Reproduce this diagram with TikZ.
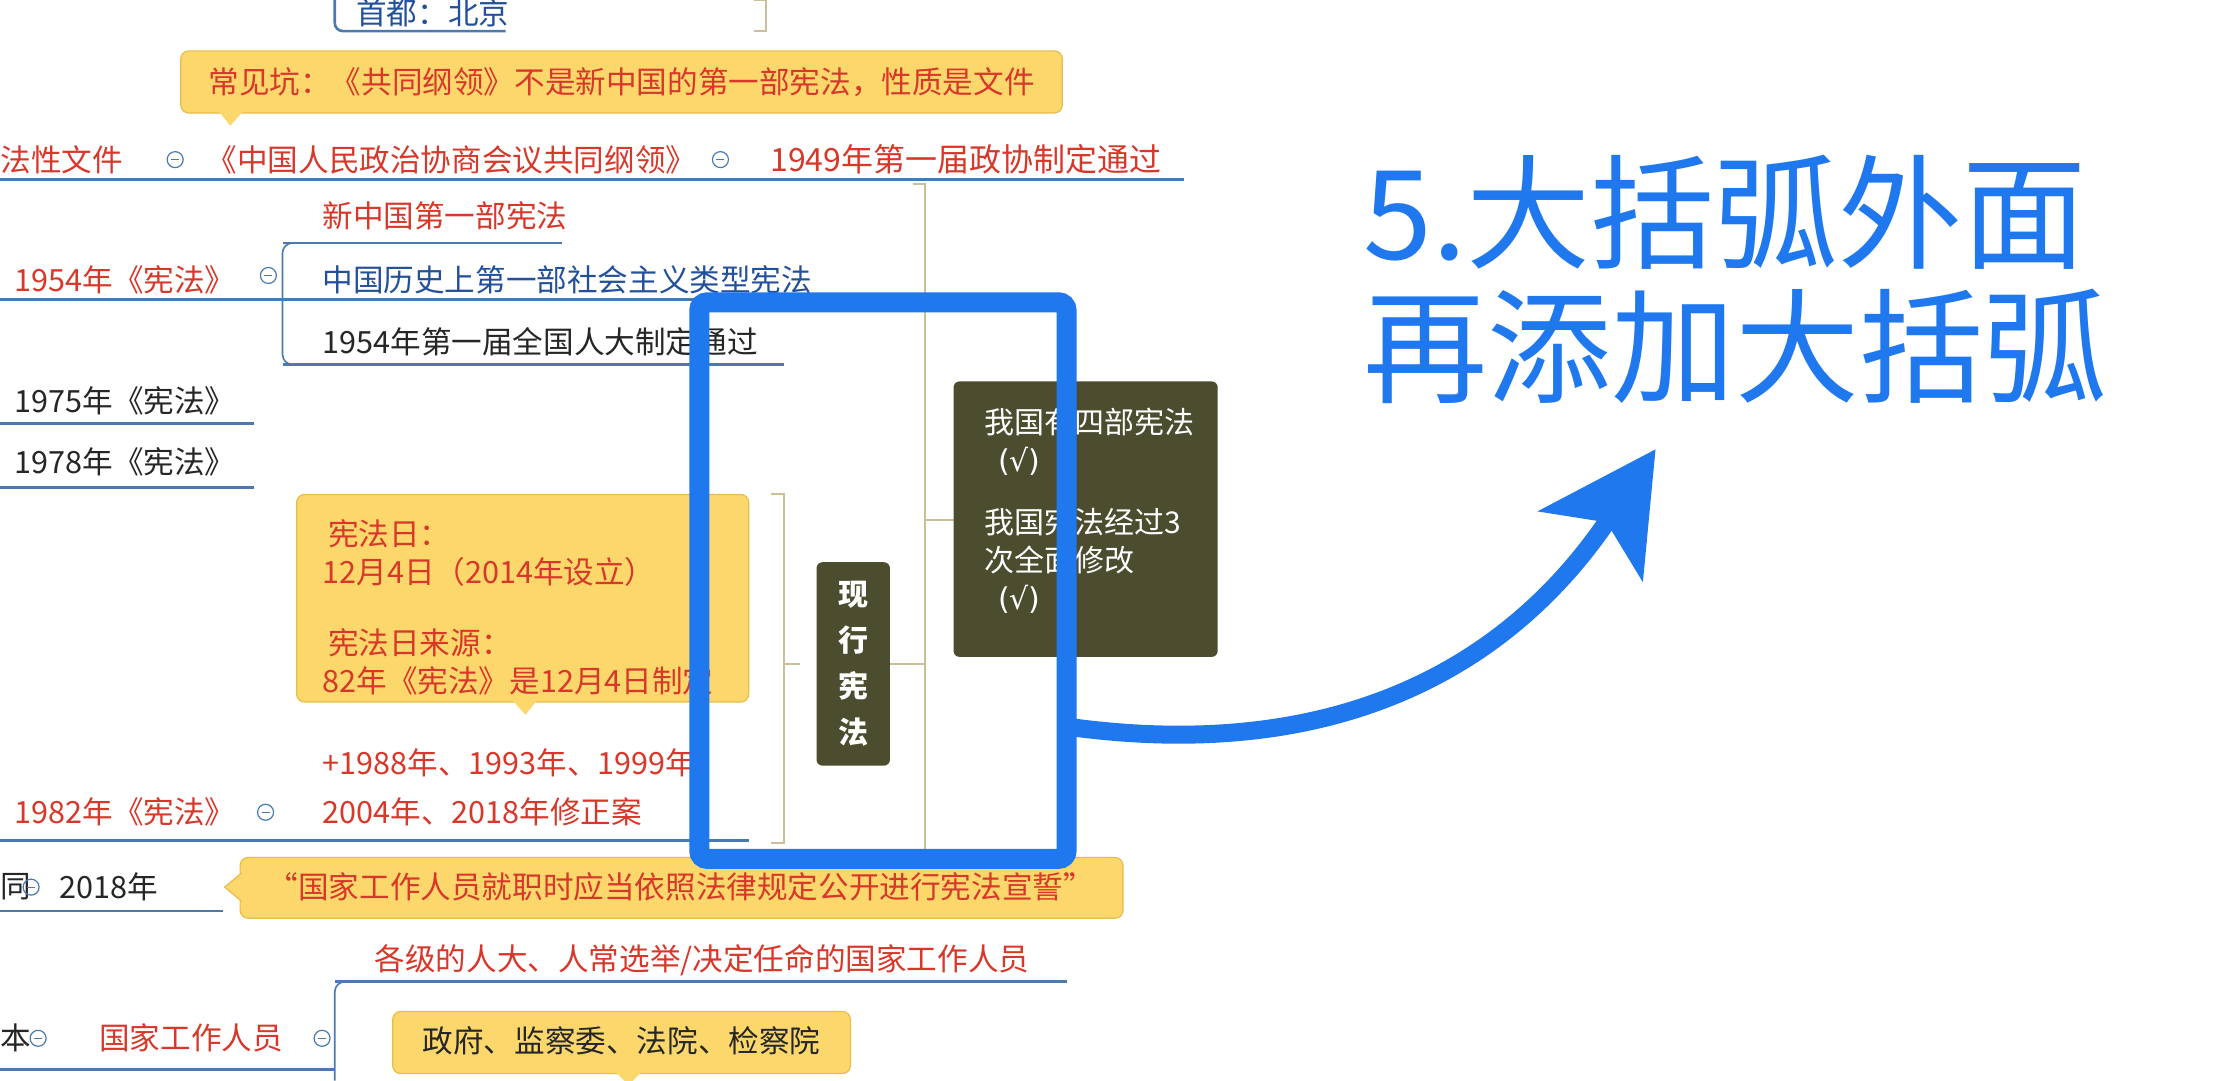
\documentclass[tikz,border=0pt]{standalone}
\usepackage{fontspec}
\setmainfont{Noto Sans CJK SC}
\newfontfamily\djv{DejaVu Sans}
\usetikzlibrary{arrows.meta}
\definecolor{rd}{HTML}{D8382A}
\definecolor{bl}{HTML}{23509A}
\definecolor{ln}{HTML}{4A7AB0}
\definecolor{tan}{HTML}{CDBF95}
\definecolor{yf}{HTML}{FBD76C}
\definecolor{yd}{HTML}{E9BC4C}
\definecolor{dk}{HTML}{4B4D2E}
\definecolor{hb}{HTML}{1F78EE}
\tikzset{
 t/.style={anchor=west,font=\fontsize{15.3}{18}\selectfont,inner sep=0pt},
 tr/.style={t,text=rd}, tb/.style={t,text=bl}, tk/.style={t,text=black!85},
 ul/.style={draw=ln,line width=1.3pt},
 br/.style={draw=tan,line width=1pt},
 fold/.style={circle,draw=ln,line width=0.6pt,minimum size=8pt,inner sep=0pt,
   path picture={\draw[ln,line width=0.6pt] ([xshift=-2pt]path picture bounding box.center)--([xshift=2pt]path picture bounding box.center);}},
 call/.style={fill=yf,draw=yd,line width=0.6pt,rounded corners=4pt},
 dark/.style={fill=dk,rounded corners=3pt},
 hl/.style={draw=hb,line width=10pt,rounded corners=4pt},
 big/.style={anchor=west,text=hb,font=\fontsize{62}{66}\selectfont,inner sep=0pt}
}
\newcommand{\chk}{\ \ {\djv (√)}}
\begin{document}
\begin{tikzpicture}[x=0.7063pt,y=-0.7063pt]
\useasboundingbox[fill=white] (0,0) rectangle (1568,765);
% top
\draw[ul,rounded corners=4pt] (358,22)--(237,22)--(237,0);
\node[tb] (cap) at (252,9) {首都：北京};
\draw[br] (534,0)--(542,0)--(542,22)--(534,22);
% callout 1
\draw[call] (128,36) rectangle (752,80);
\fill[yf] (155,79)--(172,79)--(163,89)--cycle;
\node[tr,anchor=center] (c1) at (440,58) {常见坑：《共同纲领》不是新中国的第一部宪法，性质是文件};
% row 1949
\node[tr] (a0) at (0,113) {法性文件};
\node[fold] (f0) at (124,113) {};
\node[tr] (a1) at (146,113) {《中国人民政治协商会议共同纲领》};
\node[fold] (f1) at (510,113) {};
\node[tr,font=\fontsize{16}{18}\selectfont] (a2) at (545,113) {1949年第一届政协制定通过};
\draw[ul] (0,127)--(838,127);
% 1954
\node[tr] (b0) at (228,153) {新中国第一部宪法};
\draw[ul] (200,172)--(398,172);
\node[tr] (b1) at (10,198) {1954年《宪法》};
\node[fold] (f2) at (190,195) {};
\draw[ul] (0,212)--(200,212);
\draw[ln,line width=0.8pt,rounded corners=5pt] (215,172)--(200,172)--(200,258)--(215,258);
\node[tb] (b2) at (228,198) {中国历史上第一部社会主义类型宪法};
\draw[ul] (200,212)--(585,212);
\node[tk] (b3) at (228,242) {1954年第一届全国人大制定通过};
\draw[ul] (200,258)--(555,258);
\node[tk] (c75) at (10,284) {1975年《宪法》};
\draw[ul] (0,300)--(180,300);
\node[tk] (c78) at (10,327) {1978年《宪法》};
\draw[ul] (0,345)--(180,345);
% yellow box
\draw[call] (210,350) rectangle (530,497);
\fill[yf] (363,496)--(380,496)--(372,506)--cycle;
\node[tr] (y1) at (232,378) {宪法日：};
\node[tr] (y2) at (228,405) {12月4日（2014年设立）};
\node[tr] (y3) at (232,455) {宪法日来源：};
\node[tr] (y4) at (228,482) {82年《宪法》是12月4日制定};
% 1982
\node[tr] (d0) at (228,540) {+1988年、1993年、1999年、};
\node[tr] (d1) at (228,575) {2004年、2018年修正案};
\node[tr] (d2) at (10,575) {1982年《宪法》};
\node[fold] (f3) at (188,575) {};
\draw[ul] (0,595)--(530,595);
% brackets
\draw[br] (546,350)--(555,350)--(555,597)--(546,597);
\draw[br] (555,470)--(566,470);
\draw[br] (646,130)--(655,130)--(655,602)--(646,602);
\draw[br] (655,368)--(675,368);
\node[dark,minimum height=144*0.7063pt,minimum width=52*0.7063pt] (xx) at (604,470) {};
\node[text=white,font=\fontsize{15}{23}\selectfont\bfseries,align=center] (xxt) at (xx.center) {现\\行\\宪\\法};
\draw[br] (630,470)--(655,470);
\node[dark,minimum width=187*0.7063pt,minimum height=195*0.7063pt] (db) at (768.5,367.5) {};
\node[text=white,font=\fontsize{15}{19}\selectfont,align=left,anchor=north west] (dbt) at (692,284) {我国有四部宪法\\\chk\\[12pt]我国宪法经过3\\次全面修改\\\chk};
% 2018
\node[tk] (e0) at (0,628) {同};
\node[fold] (f4) at (22,628) {};
\node[tk] (e1) at (42,628) {2018年};
\draw[ul] (0,645)--(158,645);
\draw[call] (170,607) rectangle (795,650);
\fill[yf] (171,618)--(171,638)--(159,628)--cycle;
\draw[yd,line width=0.6pt] (171,618)--(159,628)--(171,638);
\node[tr,anchor=center] (e2) at (482,628) {“国家工作人员就职时应当依照法律规定公开进行宪法宣誓”};
% bottom
\node[tr] (g0) at (265,680) {各级的人大、人常选举/决定任命的国家工作人员};
\draw[ul] (237,695)--(755,695);
\draw[ln,line width=0.8pt,rounded corners=5pt] (252,695)--(237,695)--(237,765);
\node[tk] (h0) at (0,735) {本};
\node[fold] (f5) at (27,735) {};
\node[tr] (h1) at (70,735) {国家工作人员};
\node[fold] (f6) at (228,735) {};
\draw[ul] (0,757)--(237,757);
\draw[call] (278,716) rectangle (602,760);
\fill[yf] (436,759)--(454,759)--(445,768)--cycle;
\node[tk,anchor=center] (h2) at (440,737) {政府、监察委、法院、检察院};
% highlight
\draw[hl] (495,214) rectangle (755,608);
\coordinate (s) at (760,515);
\coordinate (e) at (1172,318);
\draw[draw=hb,line width=9pt,-{Stealth[length=58pt,width=62pt,inset=14pt]}] (s) .. controls (950,540) and (1070,470) .. (e);
\node[big] (t1) at (965,150) {5.大括弧外面};
\node[big] (t2) at (965,245) {再添加大括弧};
\end{tikzpicture}
\end{document}
